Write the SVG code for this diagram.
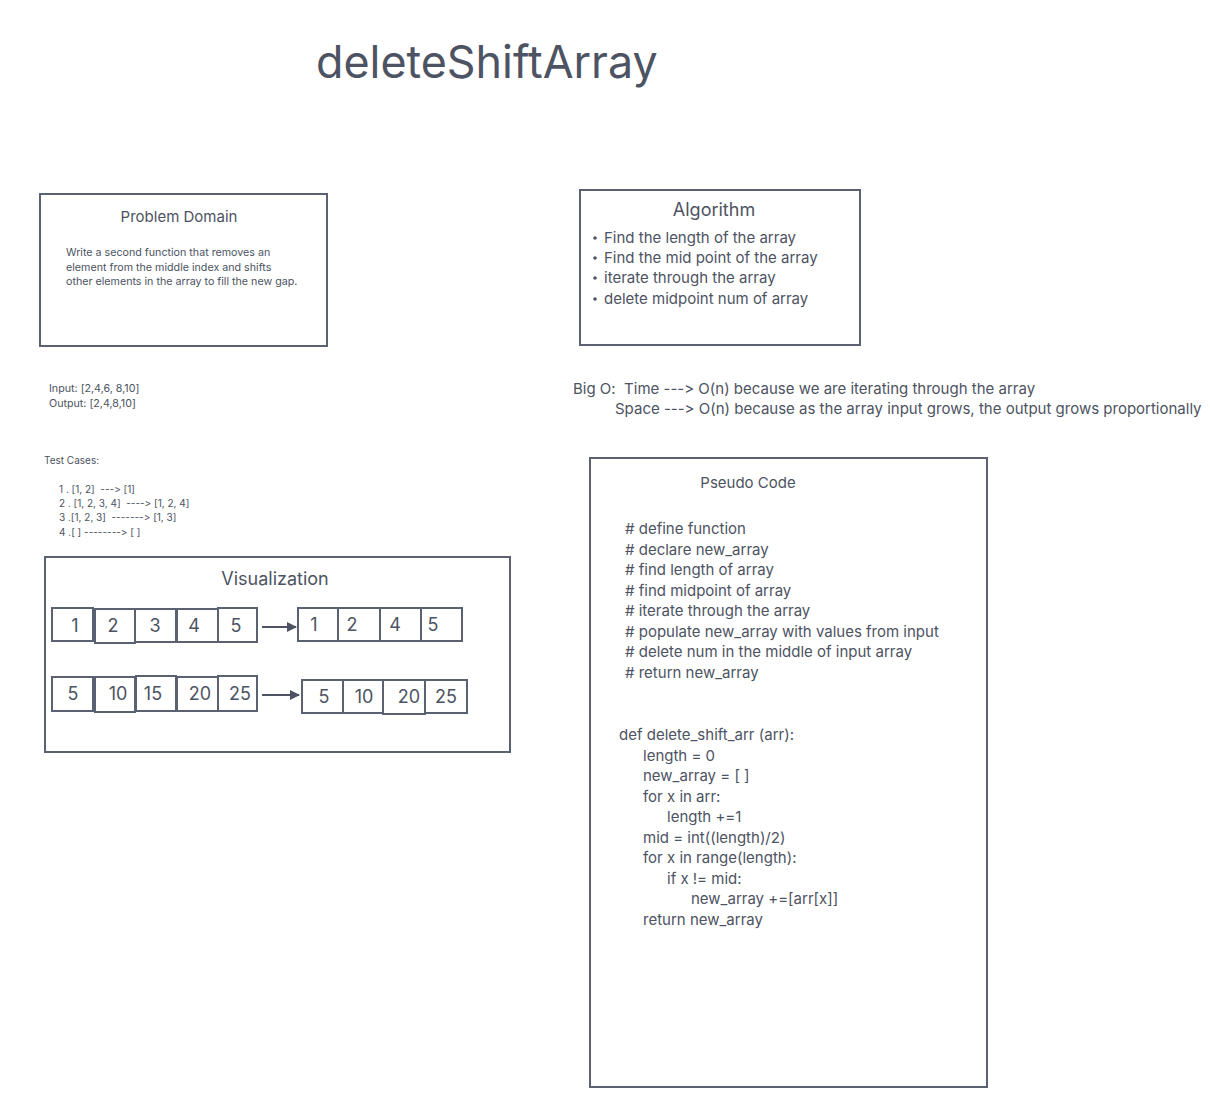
<svg xmlns="http://www.w3.org/2000/svg" width="1210" height="1100" viewBox="0 0 1210 1100">
<defs>
<style>
text{font-family:Inter,"Liberation Sans","DejaVu Sans",sans-serif;fill:#4d5362;font-variant-ligatures:none;font-feature-settings:"calt" 0,"liga" 0;white-space:pre;}
.box{fill:#ffffff;stroke:#5a6170;stroke-width:2;}
.cell{fill:#ffffff;stroke:#5a6170;stroke-width:2;}
.num{font-size:18px;}
.small{font-size:10.7px;}
.tc{font-size:10px;}
.mid{font-size:15px;}
.conn{stroke:#4d5362;stroke-width:2;fill:none;}
</style>
<marker id="ah" markerWidth="10" markerHeight="10" refX="9" refY="5" orient="auto" markerUnits="userSpaceOnUse">
<path d="M0,0 L10,5 L0,10 Z" fill="#4d5362"/>
</marker>
</defs>
<rect width="1210" height="1100" fill="#ffffff"/>

<text id="title" x="316" y="78" font-size="44.8">deleteShiftArray</text>

<g id="problem-domain">
<rect class="box" x="40" y="194" width="287" height="152"/>
<text x="179" y="222" font-size="15" text-anchor="middle">Problem Domain</text>
<text class="small" x="66" y="256">Write a second function that removes an</text>
<text class="small" x="66" y="271">element from the middle index and shifts</text>
<text class="small" x="66" y="285">other elements in the array to fill the new gap.</text>
</g>

<g id="io">
<text class="small" x="49" y="392">Input: [2,4,6, 8,10]</text>
<text class="small" x="49" y="407">Output: [2,4,8,10]</text>
</g>

<g id="test-cases">
<text class="tc" x="44" y="464">Test Cases:</text>
<text class="tc" x="59" y="493" xml:space="preserve">1 . [1, 2]  ---&gt; [1]</text>
<text class="tc" x="59" y="507" xml:space="preserve">2 . [1, 2, 3, 4]  ----&gt; [1, 2, 4]</text>
<text class="tc" x="59" y="521" xml:space="preserve">3 .[1, 2, 3]  -------&gt; [1, 3]</text>
<text class="tc" x="59" y="536" xml:space="preserve">4 .[ ] --------&gt; [ ]</text>
</g>

<g id="visualization">
<rect class="box" x="45" y="557" width="465" height="195"/>
<text x="275" y="585" font-size="18" text-anchor="middle">Visualization</text>
<g id="row1-in">
<rect class="cell" x="52" y="608" width="41" height="33"/>
<rect class="cell" x="95" y="609" width="40" height="34"/>
<rect class="cell" x="135" y="609" width="41" height="33"/>
<rect class="cell" x="177" y="609" width="41" height="33"/>
<rect class="cell" x="218" y="608" width="39" height="34"/>
<text class="num" x="75" y="632" text-anchor="middle">1</text>
<text class="num" x="113" y="632" text-anchor="middle">2</text>
<text class="num" x="155" y="632" text-anchor="middle">3</text>
<text class="num" x="194" y="632" text-anchor="middle">4</text>
<text class="num" x="236" y="632" text-anchor="middle">5</text>
</g>
<g id="row1-out">
<rect class="cell" x="298" y="608" width="40" height="33"/>
<rect class="cell" x="338" y="608" width="42" height="33"/>
<rect class="cell" x="380" y="608" width="41" height="33"/>
<rect class="cell" x="421" y="608" width="41" height="33"/>
<text class="num" x="314" y="631" text-anchor="middle">1</text>
<text class="num" x="352" y="631" text-anchor="middle">2</text>
<text class="num" x="395" y="631" text-anchor="middle">4</text>
<text class="num" x="433" y="631" text-anchor="middle">5</text>
</g>
<g id="row2-in">
<rect class="cell" x="52" y="677" width="41" height="34"/>
<rect class="cell" x="95" y="677" width="40" height="35"/>
<rect class="cell" x="136" y="676" width="40" height="35"/>
<rect class="cell" x="177" y="677" width="41" height="34"/>
<rect class="cell" x="218" y="676" width="39" height="35"/>
<text class="num" x="73" y="700" text-anchor="middle">5</text>
<text class="num" x="118" y="700" text-anchor="middle">10</text>
<text class="num" x="153" y="700" text-anchor="middle">15</text>
<text class="num" x="200" y="700" text-anchor="middle">20</text>
<text class="num" x="240" y="700" text-anchor="middle">25</text>
</g>
<g id="row2-out">
<rect class="cell" x="302" y="680" width="41" height="33"/>
<rect class="cell" x="343" y="680" width="40" height="33"/>
<rect class="cell" x="383" y="680" width="42" height="34"/>
<rect class="cell" x="425" y="680" width="42" height="33"/>
<text class="num" x="324" y="703" text-anchor="middle">5</text>
<text class="num" x="364" y="703" text-anchor="middle">10</text>
<text class="num" x="409" y="703" text-anchor="middle">20</text>
<text class="num" x="446" y="703" text-anchor="middle">25</text>
</g>
</g>

<g id="connectors">
<line class="conn" x1="262" y1="627" x2="296" y2="627" marker-end="url(#ah)"/>
<line class="conn" x1="262" y1="695" x2="299" y2="695" marker-end="url(#ah)"/>
</g>

<g id="algorithm">
<rect class="box" x="580" y="190" width="280" height="155"/>
<text x="714" y="216" font-size="18" text-anchor="middle">Algorithm</text>
<circle cx="595" cy="238" r="1.8" fill="#4d5362"/>
<circle cx="595" cy="258" r="1.8" fill="#4d5362"/>
<circle cx="595" cy="278" r="1.8" fill="#4d5362"/>
<circle cx="595" cy="299" r="1.8" fill="#4d5362"/>
<text class="mid" x="604" y="243">Find the length of the array</text>
<text class="mid" x="604" y="263">Find the mid point of the array</text>
<text class="mid" x="604" y="283">iterate through the array</text>
<text class="mid" x="604" y="304">delete midpoint num of array</text>
</g>

<g id="big-o">
<text class="mid" x="573" y="394" xml:space="preserve">Big O:  Time ---&gt; O(n) because we are iterating through the array</text>
<text class="mid" x="615" y="414">Space ---&gt; O(n) because as the array input grows, the output grows proportionally</text>
</g>

<g id="pseudo-code">
<rect class="box" x="590" y="458" width="397" height="629"/>
<text class="mid" x="748" y="488" text-anchor="middle">Pseudo Code</text>
<text class="mid" x="625" y="534"># define function</text>
<text class="mid" x="625" y="555"># declare new_array</text>
<text class="mid" x="625" y="575"># find length of array</text>
<text class="mid" x="625" y="596"># find midpoint of array</text>
<text class="mid" x="625" y="616"># iterate through the array</text>
<text class="mid" x="625" y="637"># populate new_array with values from input</text>
<text class="mid" x="625" y="657"># delete num in the middle of input array</text>
<text class="mid" x="625" y="678"># return new_array</text>
<text class="mid" x="619" y="740">def delete_shift_arr (arr):</text>
<text class="mid" x="643" y="761">length = 0</text>
<text class="mid" x="643" y="781">new_array = [ ]</text>
<text class="mid" x="643" y="802">for x in arr:</text>
<text class="mid" x="667" y="822">length +=1</text>
<text class="mid" x="643" y="843">mid = int((length)/2)</text>
<text class="mid" x="643" y="863">for x in range(length):</text>
<text class="mid" x="667" y="884">if x != mid:</text>
<text class="mid" x="691" y="904">new_array +=[arr[x]]</text>
<text class="mid" x="643" y="925">return new_array</text>
</g>
</svg>
